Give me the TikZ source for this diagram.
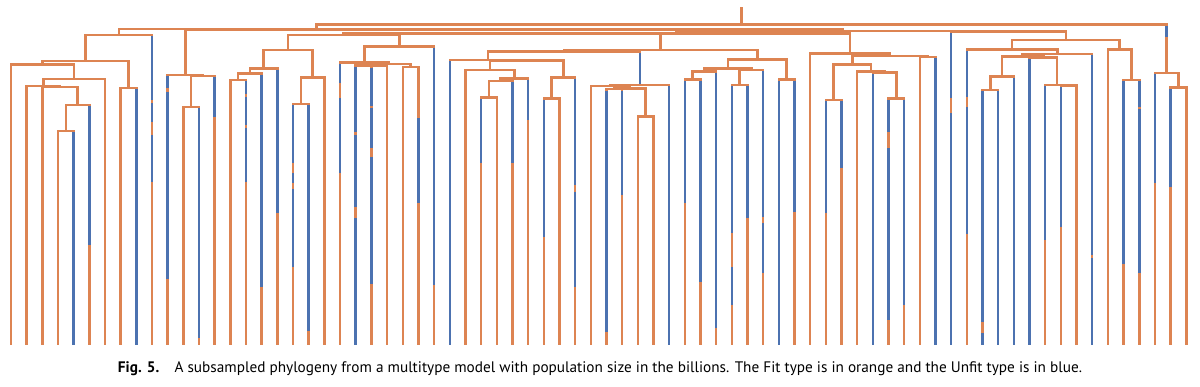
\documentclass[tikz,border=0pt]{standalone}
\usepackage{fontspec}
\setmainfont{PT Sans}
\usetikzlibrary{calc}
\definecolor{Fit}{HTML}{DD8452}
\definecolor{Unfit}{HTML}{4C72B0}

% join two children under a new node at the given height
\newcommand\jn[4]{%
  \coordinate (m-#1) at ($(#2)!0.5!(#3)$);
  \coordinate (#1) at (m-#1 |- 0,#4);
  \draw[fitline] (#1) -| (#2);
  \draw[fitline] (#1) -| (#3);
}
% blue stretch on the stem of a node
\newcommand\bl[3]{\draw[unfitline] (#1 |- 0,#2) -- (#1 |- 0,#3);}

\begin{document}
\begin{tikzpicture}[x=0.5pt,y=-0.5pt,
    fitline/.style={draw=Fit,line width=1.25pt},
    unfitline/.style={draw=Unfit,line width=1.25pt}]
  \useasboundingbox (0,0) rectangle (1200,386);
  \foreach \i in {0,...,75}
    \coordinate (L\i) at ({11+15.67*\i},345);

  % first clades
  \jn{C4}{L3}{L4}{131}
  \jn{C3}{C4}{L5}{105}
  \jn{C2}{L2}{C3}{87}
  \jn{C1}{L1}{C2}{86}
  \jn{P}{C1}{L6}{79}
  \jn{J}{L0}{P}{64.7}
  \jn{K}{L7}{L8}{88}
  \jn{I}{J}{K}{61}
  \jn{H}{I}{L9}{35}
  \jn{G}{L11}{L12}{107}
  \jn{F}{G}{L13}{75.8}
  \jn{E}{L10}{F}{75}
  \jn{G5}{L14}{L15}{80}
  \jn{G4}{G5}{L16}{73.3}
  \jn{G2}{G4}{L17}{68.3}
  \jn{G6}{L18}{L19}{104}
  \jn{G3}{G6}{L20}{77.3}
  \jn{G1}{G2}{G3}{50}
  \jn{A5}{L23}{L24}{66.2}
  \jn{A3}{L22}{A5}{65.5}
  \jn{A4}{L25}{L26}{66.8}
  \jn{A2}{A3}{A4}{64}
  \jn{A1}{L21}{A2}{62.7}
  \jn{A0}{A1}{L27}{46.3}
  \jn{X}{G1}{A0}{34.8}
  % middle clade
  \jn{N14}{L30}{L31}{97.7}
  \jn{N13}{N14}{L32}{81}
  \jn{N12}{N13}{L33}{78.3}
  \jn{N11}{L29}{N12}{70}
  \jn{N9}{L34}{L35}{98.3}
  \jn{N8}{N9}{L36}{77.3}
  \jn{N10}{N11}{N8}{60.6}
  \jn{N1}{L28}{N10}{60}
  \jn{N5}{L38}{L39}{89.2}
  \jn{N6}{L40}{L41}{116.7}
  \jn{N4}{N5}{N6}{88.3}
  \jn{N3}{L37}{N4}{86.2}
  \jn{N2}{N3}{L42}{85}
  \jn{M1}{N1}{N2}{51.5}
  \jn{M7}{L43}{L44}{79.3}
  \jn{M5}{M7}{L45}{71.7}
  \jn{M8}{L46}{L47}{85}
  \jn{M6}{M8}{L48}{70}
  \jn{M3}{M5}{M6}{68.3}
  \jn{M4}{L49}{L50}{79.3}
  \jn{M2}{M3}{M4}{59.3}
  \jn{M0}{M1}{M2}{50}
  \jn{Y}{X}{M0}{33.6}
  \jn{S3}{L52}{L53}{100}
  \jn{S5}{L56}{L57}{98.3}
  \jn{S4b}{L55}{S5}{72.3}
  \jn{S4}{L54}{S4b}{71.7}
  \jn{S2}{S3}{S4}{64.3}
  \jn{S6}{L58}{L59}{56.8}
  \jn{S1}{S2}{S6}{56}
  \jn{S}{L51}{S1}{53.3}
  \jn{K1}{Y}{S}{33.3}
  % right clades
  \jn{R10}{L62}{L63}{90}
  \jn{R6}{R10}{L64}{76.7}
  \jn{R9}{L67}{L68}{85.6}
  \jn{R8}{L66}{R9}{85}
  \jn{R7}{L65}{R8}{57.5}
  \jn{R5}{R6}{R7}{56.3}
  \jn{R4}{R5}{L69}{54}
  \jn{R1}{L61}{R4}{49.3}
  \jn{R3}{L71}{L72}{80}
  \jn{R2}{L70}{R3}{49.3}
  \jn{R0}{R1}{R2}{40}
  \jn{Q2}{L60}{R0}{31.6}
  \jn{V}{K1}{Q2}{31}
  \jn{Z}{E}{V}{29.6}
  \jn{A}{H}{Z}{29}
  \jn{B1}{L74}{L75}{87.7}
  \jn{B}{L73}{B1}{73}
  \jn{root}{A}{B}{24.7}
  \coordinate (top) at (root |- 0,7.3);
  \draw[fitline] (top) -- (root);

  % unfit stretches
  \bl{L4}{132.3}{345}
  \bl{L5}{106.3}{245}
  \bl{L8}{89.3}{345}
  \bl{L9}{36.3}{100} \bl{L9}{103}{122} \bl{L9}{135}{182}
  \bl{L10}{76.3}{88} \bl{L10}{92}{279}
  \bl{L12}{108.3}{338}
  \bl{L13}{77.1}{117}
  \bl{L15}{81.3}{94} \bl{L15}{96.5}{125} \bl{L15}{127.5}{182}
  \bl{L16}{74.6}{287}
  \bl{L17}{69.6}{213}
  \bl{L18}{105.3}{163} \bl{L18}{173}{183} \bl{L18}{189}{267}
  \bl{L19}{105.3}{331}
  \bl{L21}{64}{83} \bl{L21}{98}{173}
  \bl{L22}{66.8}{132} \bl{L22}{135}{207} \bl{L22}{218}{345}
  \bl{L23}{67.5}{106} \bl{L23}{107.5}{148} \bl{L23}{157}{284}
  \bl{L26}{118}{203}
  \bl{L27}{47.6}{285}
  \bl{L28}{61.3}{345}
  \bl{L30}{99}{163}
  \bl{L32}{82.3}{163}
  \bl{L33}{79.6}{120}
  \bl{L34}{99.6}{237}
  \bl{L36}{78.6}{185} \bl{L36}{191.7}{287}
  \bl{L38}{90.5}{332}
  \bl{L39}{90.5}{195}
  \bl{L42}{86.3}{345}
  \bl{L43}{80.6}{203}
  \bl{L44}{80.6}{282}
  \bl{L45}{73}{328}
  \bl{L46}{86.3}{233} \bl{L46}{267}{305}
  \bl{L47}{86.3}{218}
  \bl{L48}{71.3}{217} \bl{L48}{223}{273}
  \bl{L49}{80.6}{345}
  \bl{L50}{80.6}{212}
  \bl{L52}{101.3}{213}
  \bl{L53}{101.3}{168}
  \bl{L55}{73.6}{345}
  \bl{L56}{99.6}{131.7} \bl{L56}{148.3}{320}
  \bl{L57}{99.6}{305}
  \bl{L59}{58.1}{345}
  \bl{L60}{33.1}{98} \bl{L60}{113}{345}
  \bl{L61}{50.6}{97} \bl{L61}{107}{234}
  \bl{L62}{91.3}{322} \bl{L62}{333}{345}
  \bl{L63}{91.3}{345}
  \bl{L64}{78}{345}
  \bl{L65}{58.8}{345}
  \bl{L66}{86.3}{240}
  \bl{L67}{86.9}{227}
  \bl{L69}{55.3}{255} \bl{L69}{258}{345}
  \bl{L71}{81.3}{264}
  \bl{L72}{81.3}{107} \bl{L72}{109}{273}
  \bl{L73}{74.3}{183}
  \bl{L74}{89}{187}
  \bl{N2}{52.8}{84}
  \bl{B}{26}{37}

  \node[anchor=base,inner sep=0pt] (cap) at (600,372)
    {\resizebox{482pt}{!}{\fontsize{7.2}{9}\selectfont\textbf{Fig. 5.}\quad A subsampled phylogeny from a multitype model with population size in the billions. The Fit type is in orange and the Unfit type is in blue.}};
\end{tikzpicture}
\end{document}
